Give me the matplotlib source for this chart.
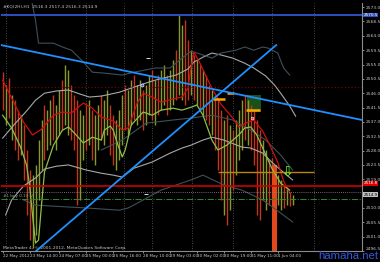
import numpy as np
import matplotlib
matplotlib.use('Agg')
import matplotlib.pyplot as plt
from matplotlib.transforms import blended_transform_factory

# H1 bars (high / low), direction: g = up, r = down
highs = [2552.6, 2548.5, 2550.7, 2545.4, 2543.8, 2540.7, 2539.1, 2536.0, 2528.2, 2521.9,
         2520.3, 2523.5, 2531.3, 2537.6, 2542.3, 2540.7, 2543.8, 2545.4, 2542.3, 2547.0,
         2550.1, 2554.8, 2553.2, 2548.5, 2545.4, 2543.8, 2540.7, 2539.1, 2542.3, 2543.8,
         2540.7, 2539.1, 2542.3, 2545.4, 2543.8, 2547.0, 2542.3, 2539.1, 2537.6, 2540.7,
         2545.4, 2548.5, 2547.0, 2550.1, 2551.7, 2548.5, 2550.1, 2547.0, 2548.5, 2551.7,
         2553.2, 2550.1, 2551.7, 2553.2, 2554.8, 2551.7, 2553.2, 2556.4, 2559.5, 2570.5,
         2567.4, 2568.9, 2562.7, 2559.5, 2558.0, 2556.4, 2554.8, 2553.2, 2551.7, 2548.5,
         2547.0, 2545.4, 2543.8, 2540.7, 2537.6, 2539.1, 2536.0, 2534.4, 2537.6, 2540.7,
         2543.8, 2545.4, 2543.8, 2542.3, 2540.7, 2537.6, 2534.4, 2531.3, 2528.2, 2525.0,
         2525.6, 2523.5, 2520.3, 2518.8, 2517.2, 2516.2, 2515.0, 2514.1]
lows = [2540.7, 2536.0, 2538.2, 2531.3, 2528.2, 2525.0, 2526.6, 2518.8, 2507.8, 2499.9,
        2497.4, 2501.5, 2512.5, 2521.9, 2525.0, 2528.2, 2529.7, 2531.3, 2528.2, 2532.9,
        2534.4, 2536.0, 2532.9, 2531.3, 2528.2, 2510.9, 2512.5, 2525.0, 2528.2, 2529.7,
        2525.0, 2523.5, 2528.2, 2531.3, 2529.7, 2532.9, 2526.6, 2523.5, 2521.9, 2525.0,
        2529.7, 2534.4, 2532.9, 2536.0, 2537.6, 2536.0, 2537.6, 2534.4, 2536.0, 2539.1,
        2537.6, 2536.0, 2539.1, 2540.7, 2542.3, 2539.1, 2540.7, 2542.3, 2543.8, 2545.4,
        2543.8, 2542.3, 2543.8, 2545.4, 2543.8, 2542.3, 2540.7, 2539.1, 2537.6, 2536.0,
        2532.9, 2528.2, 2521.9, 2512.5, 2507.8, 2504.6, 2509.3, 2515.6, 2520.3, 2525.0,
        2528.2, 2531.3, 2529.7, 2528.2, 2523.5, 2507.8, 2506.2, 2512.5, 2509.3, 2510.9,
        2512.5, 2494.0, 2510.9, 2509.3, 2510.0, 2510.9, 2510.6, 2510.9]
directions = ("rgrgrrgrrr" "ggggrggrgg" "rggrrrggrg" "rggrggrrgg" "grggrggrgg"
              "rgrggrggrg" "grrgrgrgrr" "grrrgrgrgg" "grgrrrrggr" "rrggrgrg")
big_bar = 91

# indicators (bar index, price)
red_ma_bars = [0, 3, 7, 10, 13, 17, 20, 23, 27, 30, 33, 37, 40, 42, 45, 47, 50, 53, 57, 60,
               62, 63, 64, 66, 68, 70, 73, 77, 79, 82, 84, 87, 89, 92, 94, 96]
red_ma = [2550.1, 2544.5, 2536.9, 2532.9, 2534.7, 2539.1, 2540.1, 2539.8, 2542.9, 2541.3,
          2538.5, 2537.3, 2534.4, 2535.1, 2542.9, 2546.0, 2544.8, 2543.2, 2544.2, 2544.8,
          2547.6, 2553.9, 2558.9, 2555.4, 2551.4, 2547.6, 2542.6, 2538.2, 2535.4, 2536.9,
          2537.6, 2534.1, 2530.4, 2524.4, 2518.4, 2514.7]
green_ma_bars = [0, 3, 6, 8, 9, 10, 11, 12, 13, 14, 17, 20, 22, 24, 27, 30, 33, 34, 36, 37,
                 38, 40, 41, 43, 47, 50, 53, 57, 60, 63, 65, 67, 70, 72, 75, 77, 79, 81, 83,
                 85, 87, 90, 93, 96]
green_ma = [2539.1, 2535.1, 2529.1, 2523.5, 2517.2, 2507.8, 2499.0, 2499.9, 2510.9, 2521.3,
            2529.7, 2534.4, 2535.4, 2533.5, 2530.4, 2532.2, 2531.3, 2534.4, 2535.7, 2534.4,
            2531.3, 2526.0, 2528.2, 2536.0, 2540.1, 2539.1, 2540.7, 2541.3, 2540.7, 2541.6,
            2542.3, 2539.1, 2531.3, 2528.2, 2529.7, 2531.3, 2532.9, 2535.1, 2535.4, 2532.9,
            2528.8, 2522.5, 2517.8, 2515.6]
band_up_bars = [0, 4, 8, 11, 14, 18, 22, 26, 29, 33, 36, 39, 43, 47, 51, 55, 58, 62, 64, 67,
                70, 73, 77, 81, 84, 88, 91, 93, 96, 98]
band_up = [2531.9, 2536.3, 2540.4, 2543.8, 2546.0, 2546.7, 2547.0, 2545.7, 2544.8, 2545.1,
           2545.7, 2546.3, 2547.6, 2548.9, 2550.1, 2551.0, 2551.7, 2553.6, 2555.8, 2557.3,
           2558.6, 2558.0, 2557.0, 2555.4, 2553.9, 2551.4, 2548.5, 2546.0, 2542.0, 2538.8]
band_lo_bars = [1, 3, 7, 11, 14, 18, 22, 28, 33, 37, 40, 44, 50, 56, 60, 63, 67, 70, 74, 80,
                83, 87, 90, 93, 97]
band_lo = [2507.8, 2512.5, 2516.9, 2519.4, 2522.2, 2523.1, 2523.5, 2521.9, 2520.9, 2520.3,
           2519.7, 2522.5, 2524.4, 2527.2, 2528.8, 2529.7, 2531.3, 2532.2, 2531.3, 2529.1,
           2528.8, 2527.2, 2524.4, 2521.9, 2518.8]
env_up_bars = [9, 11, 12, 14, 17, 20, 23, 27, 30, 34, 40, 44, 51, 56, 60, 63, 66, 70, 73, 78,
               81, 84, 87, 89, 92, 94, 96]
env_up = [2578.3, 2568.9, 2561.7, 2561.7, 2561.7, 2560.5, 2559.5, 2555.8, 2552.6, 2552.3,
          2551.7, 2552.6, 2553.9, 2553.9, 2557.0, 2559.2, 2558.3, 2557.0, 2558.6, 2559.5,
          2560.5, 2559.5, 2560.5, 2560.1, 2558.6, 2553.9, 2551.7]
env_lo_bars = [7, 11, 22, 28, 39, 42, 47, 53, 63, 67, 74, 80, 87, 93, 97]
env_lo = [2512.5, 2510.9, 2510.3, 2510.0, 2509.3, 2510.0, 2512.5, 2515.6, 2518.8, 2520.3,
          2517.2, 2515.6, 2512.5, 2508.4, 2505.6]
env_mid_bars = [33, 40, 48, 57, 63, 70, 77, 83, 88, 93, 97]
env_mid = [2528.2, 2531.3, 2536.6, 2537.6, 2538.2, 2539.1, 2537.6, 2534.4, 2531.3, 2526.6,
           2521.9]

# chart objects
trend1_bars, trend1_prices = [-0.5, 120.2], [2561.1, 2537.6]
trend2_bars, trend2_prices = [11.2, 91.5], [2496.5, 2561.1]
ask_level = 2570.5
red_level = 2516.8
bid_level = 2514.9
stop_level = 2512.8
dotted_level = 2547.9
orange_level, orange_from, orange_to = 2521.3, 72, 104
pivot_bars = [(70.3, 74.3, 2544.2), (75.0, 77.3, 2546.1), (81.3, 86.0, 2540.7)]
zone = (81.7, 86.3, 2540.0, 2545.4)
separators = [1, 28, 40.5, 50, 63.5, 77, 90, 104]
time_ticks = [0, 9, 19, 28, 37, 47, 56, 65, 74, 83, 92]
time_labels = ["22 May 2012", "23 May 14:00", "24 May 07:00", "25 May 00:00", "25 May 16:00",
               "28 May 10:00", "29 May 03:00", "30 May 02:00", "30 May 19:00", "31 May 11:00",
               "1 Jun 04:00"]
price_ticks = [2496.5 + 4.5 * k for k in range(18)]

fig = plt.figure(figsize=(3.8, 2.62), dpi=100, facecolor='black')
ax = fig.add_axes([0.003, 11 / 262, 362 / 380 - 0.003, 248 / 262])
ax.set_facecolor('black')
ax.set_xlim(-0.5, 120.2)
ax.set_ylim(2496.5, 2574.3)

for x in separators:
    ax.axvline(x, color='#56646a', lw=0.6, ls=(0, (1, 2)))

# zone and bars
ax.add_patch(plt.Rectangle((zone[0], zone[2]), zone[1] - zone[0], zone[3] - zone[2],
                           facecolor='#1d5a1d', edgecolor='none', alpha=0.9, zorder=1))
idx = np.arange(len(highs))
cols = ['#8a9a2a' if d == 'g' else '#c3361c' for d in directions]
mask = idx != big_bar
ax.vlines(idx[mask], np.array(lows)[mask], np.array(highs)[mask],
          colors=np.array(cols)[mask], lw=1.0, zorder=2)
ax.bar(big_bar, highs[big_bar] - lows[big_bar], bottom=lows[big_bar], width=1.7,
       color='#e2481c', zorder=3)

# indicators
ax.plot(band_up_bars, band_up, color='#a8a8a8', lw=0.8, zorder=3)
ax.plot(band_lo_bars, band_lo, color='#a8a8a8', lw=0.8, zorder=3)
ax.plot(env_up_bars, env_up, color='#3e5058', lw=0.8, zorder=3)
ax.plot(env_lo_bars, env_lo, color='#3e5058', lw=0.8, zorder=3)
ax.plot(env_mid_bars, env_mid, color='#3e5058', lw=0.8, zorder=3)
ax.plot(red_ma_bars, red_ma, color='#d01010', lw=0.9, zorder=4)
ax.plot(green_ma_bars, green_ma, color='#8fbf4a', lw=0.9, zorder=4)

# levels and trend lines
ax.axhline(ask_level, color='#2d4fc0', lw=1.4, zorder=5)
ax.axhline(dotted_level, color='#8b0000', lw=0.8, ls=(0, (1, 2)), zorder=5)
ax.axhline(red_level, color='#cc0000', lw=1.2, zorder=5)
ax.axhline(bid_level, color='#8c8c8c', lw=0.6, ls=(0, (1, 1.5)), zorder=5)
ax.axhline(stop_level, color='#2e8b2e', lw=0.7, ls='-.', zorder=5)
ax.hlines(orange_level, orange_from, orange_to, color='#b8860b', lw=1.0, zorder=5)
for a, b, p in pivot_bars:
    ax.hlines(p, a, b, color='#ffa500', lw=1.8, zorder=6)
ax.plot(trend1_bars, trend1_prices, color='#1e90ff', lw=1.3, zorder=6)
ax.plot(trend2_bars, trend2_prices, color='#1e90ff', lw=1.3, zorder=6)

# small markers
ax.plot(46.7, 2548.5, 'o', ms=2.2, mfc='#4060ff', mec='white', mew=0.4, zorder=7)
ax.plot(83.3, 2538.2, 'o', ms=2.0, mfc='#ff3030', mec='white', mew=0.4, zorder=7)
ax.hlines([2557.0, 2514.5], [47.8, 47.2], [49.2, 48.6], color='white', lw=0.6, zorder=7)
ax.text(95.3, 2521.5, '\u21e9', color='#66ff22', fontsize=10, ha='center', va='center',
        zorder=8)

# texts
tc = '#c8c8c8'
ax.text(0.006, 0.995, '#KQ(2H),H1  2516.3 2517.4 2516.3 2514.9', transform=ax.transAxes,
        color=tc, fontsize=3.2, va='top', ha='left')
ax.text(0.006, 2513.9, '#1 buy 0.10 s/l', color='#9a9a9a', fontsize=3.0, va='center')
ax.text(0.006, 0.005, 'MetaTrader 4, \u00a9 2001-2012, MetaQuotes Software Corp.',
        transform=ax.transAxes, color=tc, fontsize=3.2, va='bottom', ha='left')

# axes
for s in ['left', 'top']:
    ax.spines[s].set_visible(False)
for s in ['right', 'bottom']:
    ax.spines[s].set_color('#8c8c8c')
    ax.spines[s].set_linewidth(0.8)
ax.yaxis.tick_right()
ax.set_yticks(price_ticks)
# the price scale hides the tick label that sits under the bid/red price boxes
ax.set_yticklabels(['' if abs(v - bid_level) < 2 else '%.1f' % v for v in price_ticks])
ax.set_xticks(time_ticks)
ax.set_xticklabels(time_labels, ha='left')
ax.tick_params(axis='y', colors=tc, labelsize=3.2, length=1.5, width=0.5, pad=1)
ax.tick_params(axis='x', colors=tc, labelsize=3.0, length=1.5, width=0.5, pad=1)
ax.get_yticklabels()[0].set_va('bottom')

tr = blended_transform_factory(ax.transAxes, ax.transData)
for p, shift, fc, c in [(ask_level, 0.0, '#2d4fc0', 'white'),
                        (red_level, 0.9, '#dd0000', 'white'),
                        (bid_level, -0.7, '#c0c0c0', 'black')]:
    ax.text(1.004, p + shift, '%.1f' % p, transform=tr, color=c, fontsize=3.0,
            va='center', ha='left', clip_on=False, zorder=10,
            bbox=dict(facecolor=fc, edgecolor='none', pad=0.15))

fig.text(0.995, 0.002, 'hamaha.net', color='#3358e0', fontsize=8.2,
         family='Liberation Sans', ha='right', va='bottom')

fig.savefig('out.png', dpi=100, facecolor='black')
